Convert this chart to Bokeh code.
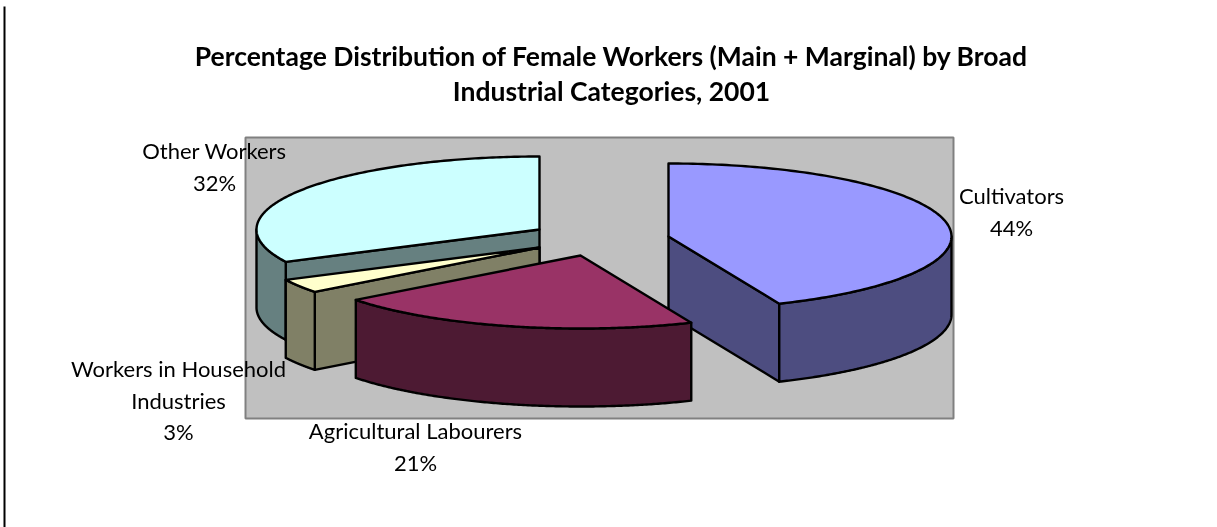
import numpy as np
from bokeh.plotting import figure
from bokeh.models import Range1d
from bokeh.core.properties import value
from bokeh.embed import file_html
from bokeh.resources import INLINE

# --- data ---
categories = ["Cultivators", "Agricultural Labourers", "Workers in Household Industries", "Other Workers"]
shares = [43.6, 21.0, 3.1, 32.3]
label_lines = [["Cultivators"], ["Agricultural Labourers"], ["Workers in Household", "Industries"], ["Other Workers"]]
top_colors = ["#9999FF", "#993366", "#FFFFCC", "#CCFFFF"]
side_colors = ["#4D4D80", "#4D1A33", "#808066", "#668080"]
title_lines = ["Percentage Distribution of Female Workers (Main + Marginal) by Broad",
               "Industrial Categories, 2001"]

# --- layout (screen pixels) ---
W, H = 1217, 527
RX, RY, DEPTH = 283, 73, 78
centers = [(668, 236), (580, 255), (539, 247), (539, 229)]
label_anchor = [(1011, 195), (415, 430), (178, 368), (214, 150)]
LINE_GAP = 31.5
draw_order = [3, 2, 0, 1]

p = figure(width=W, height=H, x_range=Range1d(0, W), y_range=Range1d(H, 0),
           output_backend="svg", toolbar_location=None, min_border=0,
           outline_line_color=None, background_fill_color="white", border_fill_color="white")
p.axis.visible = False
p.grid.visible = False
p.styles = {"position": "fixed", "left": "0", "top": "0"}

# page rule at the left edge
p.line([4, 4], [6, H], line_color="black", line_width=2)

# plot area
p.quad(left=245, right=953, top=137, bottom=418, fill_color="#C0C0C0", line_color="#808080", line_width=2)


def arc(cx, cy, a0, a1, dy=0.0):
    t = np.radians(np.linspace(a0, a1, 160))
    return cx + RX * np.sin(t), cy - RY * np.cos(t) + dy


def poly(xs, ys, color):
    p.patch(list(xs), list(ys), fill_color=color, line_color="black", line_width=2.4, line_join="round")


edges = np.concatenate([[0], np.cumsum(shares)]) * 3.6
for i in draw_order:
    a0, a1 = edges[i], edges[i + 1]
    cx, cy = centers[i]
    # flat cut faces that turn to the viewer
    for a, visible in ((a0, 180 < a0 < 360), (a1, 0 < a1 < 180)):
        if visible:
            ex, ey = arc(cx, cy, a, a)
            poly([cx, ex[0], ex[0], cx], [cy, ey[0], ey[0] + DEPTH, cy + DEPTH], side_colors[i])
    # curved outer wall on the near half
    lo, hi = max(a0, 90), min(a1, 270)
    if lo < hi:
        tx, ty = arc(cx, cy, lo, hi)
        bx, by = arc(cx, cy, lo, hi, DEPTH)
        poly(np.concatenate([tx, bx[::-1]]), np.concatenate([ty, by[::-1]]), side_colors[i])
    # top face
    tx, ty = arc(cx, cy, a0, a1)
    poly(np.concatenate([[cx], tx]), np.concatenate([[cy], ty]), top_colors[i])

# title
for k, line in enumerate(title_lines):
    p.text([611], [55 + 35 * k], text=[line], text_font=value("Lato"), text_font_style="bold",
           text_font_size="26.5px", text_color="black", text_align="center", text_baseline="middle")

# data labels
for i, lines in enumerate(label_lines):
    ax, ay = label_anchor[i]
    all_lines = lines + [f"{round(shares[i])}%"]
    for k, line in enumerate(all_lines):
        p.text([ax], [ay + LINE_GAP * k], text=[line], text_font=value("Lato"),
               text_font_size="22px", text_color="black", text_align="center", text_baseline="middle")

open("out.html", "w").write(file_html(p, INLINE))
